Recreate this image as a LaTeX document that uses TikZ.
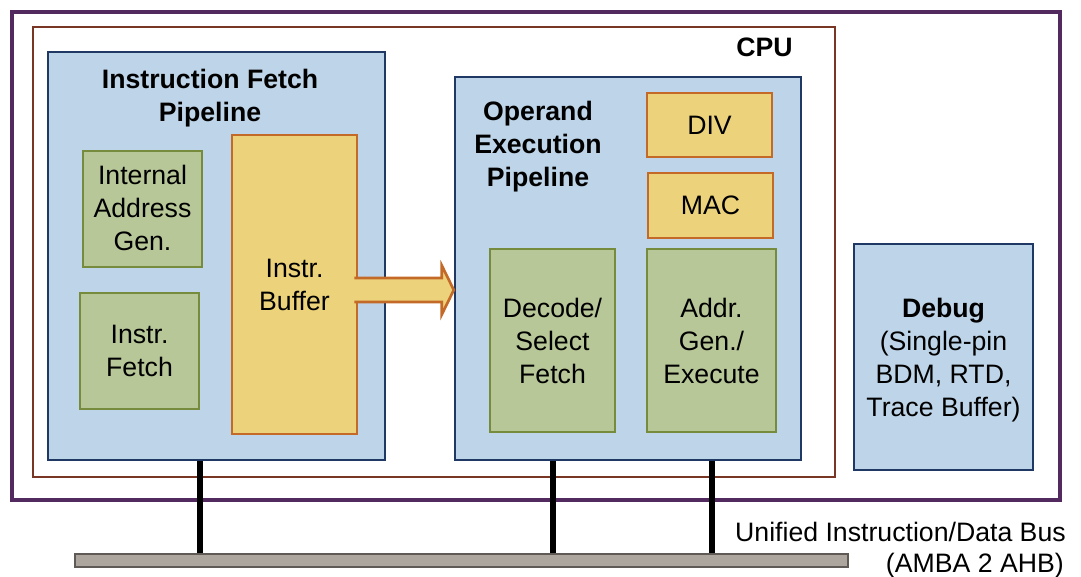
\documentclass[tikz,border=0pt]{standalone}
\usepackage{fontspec}
\setmainfont{Liberation Sans}
\usetikzlibrary{fit,calc}
\definecolor{outerpurple}{RGB}{82,42,96}
\definecolor{cpubrown}{RGB}{122,54,36}
\definecolor{pipefill}{RGB}{190,212,232}
\definecolor{pipeline}{RGB}{31,56,100}
\definecolor{grnfill}{RGB}{183,199,152}
\definecolor{grnline}{RGB}{118,140,60}
\definecolor{ylwfill}{RGB}{236,210,122}
\definecolor{ylwline}{RGB}{196,106,40}
\definecolor{busfill}{RGB}{173,166,159}
\definecolor{busline}{RGB}{95,90,85}
\tikzset{
  every node/.style={font=\fontsize{20}{24.75}\selectfont, align=center, inner sep=0pt},
  area/.style={fit={#1}, inner sep=0pt},
  outerbox/.style={draw=outerpurple, line width=3pt},
  cpubox/.style={draw=cpubrown, line width=1.5pt},
  pipebox/.style={draw=pipeline, fill=pipefill, line width=1.8pt},
  grnbox/.style={draw=grnline, fill=grnfill, line width=2pt},
  ylwbox/.style={draw=ylwline, fill=ylwfill, line width=2pt},
  busbar/.style={draw=busline, fill=busfill, line width=2pt},
  tap/.style={draw=black, line width=5pt},
  titletext/.style={font=\fontsize{20}{24.75}\selectfont\bfseries},
}
\begin{document}
\begin{tikzpicture}[x=0.75pt, y=-0.75pt]
\useasboundingbox (0,0) rectangle (1081,576);
% outer and CPU frames
\node[outerbox, area={(12,12) (1060,500)}] (outer) {};
\node[cpubox, area={(33,27) (835,477)}] (cpu) {};
\node[titletext, anchor=base east] (cputxt) at (793,56) {CPU};
% instruction fetch pipeline
\node[pipebox, area={(48,52) (385,460)}] (ifp) {};
\node[titletext] (ifptitle) at (210,98) {Instruction Fetch\\Pipeline};
\node[grnbox, area={(83,151) (202,267)}] (iag) {};
\node (iagtxt) at ($(iag.center)+(0,-1)$) {Internal\\Address\\Gen.};
\node[grnbox, area={(80,293) (199,409)}] (ifetch) {};
\node (ifetchtxt) at (ifetch.center) {Instr.\\Fetch};
\node[ylwbox, area={(232,135) (357,434)}] (buf) {};
% operand execution pipeline
\node[pipebox, area={(455,77) (801,460)}] (oep) {};
\node[titletext] (oeptitle) at (538,147) {Operand\\Execution\\Pipeline};
\node[ylwbox, area={(647,93) (772,157)}] (div) {};
\node (divtxt) at (div.center) {DIV};
\node[ylwbox, area={(648,173) (773,238)}] (mac) {};
\node (mactxt) at (mac.center) {MAC};
\node[grnbox, area={(490,249) (615,432)}] (dec) {};
\node (dectxt) at (dec.center) {Decode/\\Select\\Fetch};
\node[grnbox, area={(647,249) (776,432)}] (agx) {};
\node (agxtxt) at (agx.center) {Addr.\\Gen./\\Execute};
% debug
\node[pipebox, area={(854,244) (1033,470)}] (dbg) {};
\node (dbgtxt) at ($(dbg.center)+(0,3)$) {\textbf{Debug}\\(Single-pin\\BDM, RTD,\\Trace Buffer)};
% block arrow from buffer to operand pipeline
\coordinate (aS) at ($(buf.east |- 0,290)+(-4,0)$);
\coordinate (aT) at (oep.west |- aS);
\fill[ylwfill] ($(aS)+(-2,-12)$) -- ($(aT)+(-12,-12)$) -- ($(aT)+(-12,-24.5)$) -- (aT)
  -- ($(aT)+(-12,24.5)$) -- ($(aT)+(-12,12)$) -- ($(aS)+(-2,12)$) -- cycle;
\draw[ylwline, line width=2pt, line join=miter] (aS) ++(0,-12) -- ($(aT)+(-12,-12)$) -- ($(aT)+(-12,-24.5)$) -- (aT)
  -- ($(aT)+(-12,24.5)$) -- ($(aT)+(-12,12)$) -- ($(aS)+(0,12)$);
\node (buftxt) at (buf.center) {Instr.\\Buffer};
% bus
\node[busbar, area={(75,554) (848,567)}] (bus) {};
\coordinate (t1) at (200,0);
\coordinate (t2) at (553,0);
\coordinate (t3) at (712,0);
\draw[tap] (ifp.south -| t1) -- (bus.north -| t1);
\draw[tap] (oep.south -| t2) -- (bus.north -| t2);
\draw[tap] (oep.south -| t3) -- (bus.north -| t3);
\node[anchor=base east] (buslbl1) at (1066,541) {Unified Instruction/Data Bus};
\node[anchor=base east] (buslbl2) at (1064,572) {(AMBA 2 AHB)};
\end{tikzpicture}
\end{document}
